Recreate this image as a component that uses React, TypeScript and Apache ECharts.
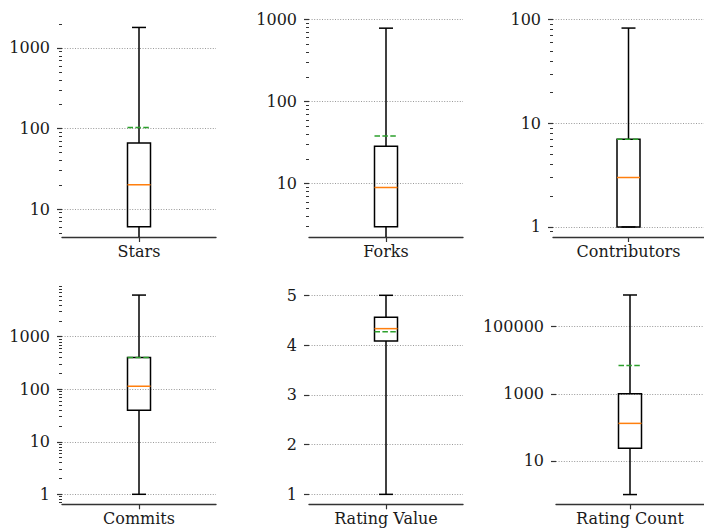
import React, { useEffect, useRef } from "react";
import * as echarts from "echarts";

// ---- data ----
const categories = ["Stars", "Forks", "Contributors", "Commits", "Rating Value", "Rating Count"];
const whiskerLow = [0, 0, 1, 1, 1, 1];
const q1Values = [6, 3, 1, 40, 4.08, 24];
const medianValues = [20, 9, 3, 114, 4.33, 132];
const q3Values = [66, 28.5, 7, 400, 4.56, 1000];
const whiskerHigh = [1800, 780, 83, 6200, 5, 880000];
const meanValues = [103, 38, 7, 400, 4.27, 7000];

// axis ranges and ticks
const axisMin = [4.49, 2.25, 0.8, 0.645, 0.8, 0.513];
const axisMax = [2358, 1037, 103.8, 9640, 5.207, 1746000];
const logScale = [true, true, true, true, false, true];
const majorTicks = [
  [10, 100, 1000],
  [10, 100, 1000],
  [1, 10, 100],
  [1, 10, 100, 1000],
  [1, 2, 3, 4, 5],
  [10, 1000, 100000],
];
const minorTicks = [
  [5, 6, 7, 8, 9, 20, 30, 40, 50, 60, 70, 80, 90, 200, 300, 400, 500, 600, 700, 800, 900, 2000],
  [3, 4, 5, 6, 7, 8, 9, 20, 30, 40, 50, 60, 70, 80, 90, 200, 300, 400, 500, 600, 700, 800, 900],
  [0.9, 2, 3, 4, 5, 6, 7, 8, 9, 20, 30, 40, 50, 60, 70, 80, 90],
  [0.7, 0.8, 0.9, 2, 3, 4, 5, 6, 7, 8, 9, 20, 30, 40, 50, 60, 70, 80, 90, 200, 300, 400, 500, 600, 700, 800, 900, 2000, 3000, 4000, 5000, 6000, 7000, 8000, 9000],
  [],
  [],
];

// layout
const gridBoxes = [
  { left: 62, top: 18, width: 154, height: 219 },
  { left: 309, top: 18, width: 154, height: 219 },
  { left: 553, top: 18, width: 159, height: 219 },
  { left: 62, top: 285, width: 154, height: 219.3 },
  { left: 309, top: 285, width: 154, height: 219.3 },
  { left: 556, top: 285, width: 153, height: 219.3 },
];

const FONT = "'DejaVu Serif', monospace";
const TEXT = "#1a1a1a";
const SPINE = "#333";

function buildOption() {
  const grid: any[] = [];
  const xAxis: any[] = [];
  const yAxis: any[] = [];
  const series: any[] = [];

  categories.forEach((cat, i) => {
    grid.push({ ...gridBoxes[i], containLabel: false });
    xAxis.push({
      type: "category",
      gridIndex: i,
      data: [cat],
      boundaryGap: true,
      axisLine: { show: true, lineStyle: { color: SPINE, width: 1.4 } },
      axisTick: { show: true, alignWithLabel: true, length: 5, lineStyle: { color: SPINE, width: 1.2 } },
      axisLabel: { fontFamily: FONT, fontSize: 16, color: TEXT, margin: 6 },
      splitLine: { show: false },
    });
    const majorIndex = yAxis.length;
    yAxis.push({
      type: logScale[i] ? "log" : "value",
      logBase: 10,
      gridIndex: i,
      min: axisMin[i],
      max: axisMax[i],
      position: "left",
      axisLine: { show: false },
      axisTick: { show: true, length: 5, customValues: majorTicks[i], lineStyle: { color: SPINE, width: 1.2 } },
      axisLabel: {
        show: true,
        customValues: majorTicks[i],
        fontFamily: FONT,
        fontSize: 16,
        color: TEXT,
        margin: 12,
        formatter: (v: number) => String(Math.round(v * 1000) / 1000),
      },
      splitLine: {
        show: true,
        lineStyle: { color: "#999", width: 1, type: [1, 1.6] },
      },
      minorTick: { show: false },
    });
    if (minorTicks[i].length) {
      yAxis.push({
        type: "log",
        logBase: 10,
        gridIndex: i,
        min: axisMin[i],
        max: axisMax[i],
        position: "left",
        offset: 0,
        axisLine: { show: false },
        axisTick: { show: true, length: 3, customValues: minorTicks[i], lineStyle: { color: SPINE, width: 1 } },
        axisLabel: { show: false },
        splitLine: { show: false },
      });
    }
    const isLog = logScale[i];
    series.push({
      type: "custom",
      xAxisIndex: i,
      yAxisIndex: majorIndex,
      silent: true,
      clip: false,
      data: [[0, whiskerLow[i], q1Values[i], medianValues[i], q3Values[i], whiskerHigh[i], meanValues[i]]],
      encode: { x: 0, y: [2, 3, 4] },
      renderItem: (params: any, api: any) => {
        const cs = params.coordSys;
        const bottom = cs.y + cs.height;
        const yOf = (v: number) => (v > 0 || !isLog ? Math.min(api.coord([0, v])[1], bottom) : bottom);
        const lo = api.value(1);
        const q1 = api.value(2);
        const md = api.value(3);
        const q3 = api.value(4);
        const hi = api.value(5);
        const mn = api.value(6);
        const cx = api.coord([0, q1])[0];
        const half = 11.5;
        const capHalf = 7;
        const blk = { stroke: "#000", lineWidth: 1.5, fill: null };
        const children: any[] = [
          { type: "line", shape: { x1: cx, y1: yOf(q1), x2: cx, y2: yOf(lo) }, style: blk },
          { type: "line", shape: { x1: cx, y1: yOf(q3), x2: cx, y2: yOf(hi) }, style: blk },
          {
            type: "rect",
            shape: { x: cx - half, y: yOf(q3), width: 2 * half, height: yOf(q1) - yOf(q3) },
            style: { stroke: "#000", lineWidth: 1.5, fill: null },
          },
          { type: "line", shape: { x1: cx - capHalf, y1: yOf(hi), x2: cx + capHalf, y2: yOf(hi) }, style: blk },
        ];
        if (lo > 0 || !isLog) {
          children.push({ type: "line", shape: { x1: cx - capHalf, y1: yOf(lo), x2: cx + capHalf, y2: yOf(lo) }, style: blk });
        }
        children.push({
          type: "line",
          shape: { x1: cx - half, y1: yOf(md), x2: cx + half, y2: yOf(md) },
          style: { stroke: "#ff7f0e", lineWidth: 1.5 },
        });
        children.push({
          type: "line",
          shape: { x1: cx - half, y1: yOf(mn), x2: cx + half, y2: yOf(mn) },
          style: { stroke: "#2ca02c", lineWidth: 1.5, lineDash: [5.5, 2.4] },
        });
        return { type: "group", children };
      },
    });
  });

  return {
    animation: false,
    backgroundColor: "#ffffff",
    grid,
    xAxis,
    yAxis,
    series,
  };
}

export default function App() {
  const ref = useRef<HTMLDivElement>(null);
  useEffect(() => {
    if (!ref.current) return;
    const chart = echarts.init(ref.current, undefined, { renderer: "svg" });
    chart.setOption(buildOption() as any);
    return () => chart.dispose();
  }, []);
  return (
    <div
      ref={ref}
      style={{ position: "absolute", left: 0, top: 0, width: 704, height: 531, background: "#fff" }}
    />
  );
}
